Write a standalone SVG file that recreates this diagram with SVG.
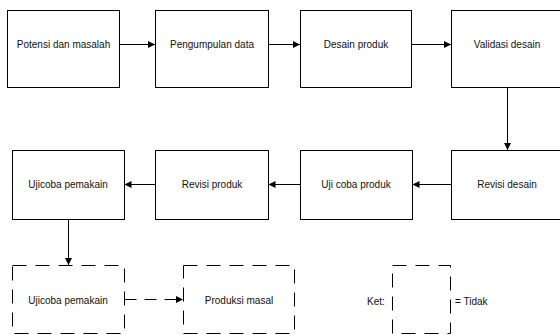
<svg xmlns="http://www.w3.org/2000/svg" width="560" height="335" viewBox="0 0 560 335">
<defs>
<style>
.box{fill:#fff;stroke:#000;stroke-width:1}
.dbox{fill:#fff;stroke:#000;stroke-width:1;stroke-dasharray:14 9}
.t{font-family:"Liberation Sans",Arial,sans-serif;font-size:10px;fill:#111;text-anchor:middle;dominant-baseline:central}
.c{fill:none;stroke:#000;stroke-width:1}
.d{stroke-dasharray:12 8}
</style>
<marker id="ah" viewBox="0 0 10 10" refX="10" refY="5" markerWidth="7" markerHeight="7" orient="auto" markerUnits="userSpaceOnUse">
<path d="M0,0 L10,5 L0,10 Z" fill="#000"/>
</marker>
</defs>
<rect width="560" height="335" fill="#fff"/>
<g id="connectors">
<line class="c" x1="119.5" y1="44.5" x2="155" y2="44.5" marker-end="url(#ah)"/>
<line class="c" x1="268.5" y1="44.5" x2="300" y2="44.5" marker-end="url(#ah)"/>
<line class="c" x1="411.5" y1="44.5" x2="451" y2="44.5" marker-end="url(#ah)"/>
<line class="c" x1="507.5" y1="88" x2="507.5" y2="150" marker-end="url(#ah)"/>
<line class="c" x1="451" y1="184.5" x2="412.5" y2="184.5" marker-end="url(#ah)"/>
<line class="c" x1="300" y1="184.5" x2="268.5" y2="184.5" marker-end="url(#ah)"/>
<line class="c" x1="155" y1="184.5" x2="124.5" y2="184.5" marker-end="url(#ah)"/>
<line class="c" x1="68.5" y1="219" x2="68.5" y2="265" marker-end="url(#ah)"/>
<line class="c d" x1="124.5" y1="299.5" x2="183" y2="299.5" marker-end="url(#ah)"/>
</g>
<g id="n1"><rect class="box" x="7.5" y="10.5" width="112" height="77"/><text class="t" x="63.5" y="44">Potensi dan masalah</text></g>
<g id="n2"><rect class="box" x="155.5" y="10.5" width="113" height="77"/><text class="t" x="212" y="44">Pengumpulan data</text></g>
<g id="n3"><rect class="box" x="300.5" y="10.5" width="111" height="77"/><text class="t" x="356" y="44">Desain produk</text></g>
<g id="n4"><rect class="box" x="451.5" y="10.5" width="112" height="77"/><text class="t" x="507" y="44">Validasi desain</text></g>
<g id="n5"><rect class="box" x="451.5" y="150.5" width="112" height="69"/><text class="t" x="507" y="184">Revisi desain</text></g>
<g id="n6"><rect class="box" x="300.5" y="150.5" width="112" height="69"/><text class="t" x="356" y="184">Uji coba produk</text></g>
<g id="n7"><rect class="box" x="155.5" y="150.5" width="113" height="69"/><text class="t" x="212" y="184">Revisi produk</text></g>
<g id="n8"><rect class="box" x="12.5" y="150.5" width="112" height="69"/><text class="t" x="68" y="184">Ujicoba pemakain</text></g>
<g id="n9"><rect class="dbox" x="12.5" y="265.5" width="112" height="68"/><text class="t" x="68" y="300">Ujicoba pemakain</text></g>
<g id="n10"><rect class="dbox" x="183.5" y="265.5" width="111" height="68"/><text class="t" x="239" y="300">Produksi masal</text></g>
<g id="legend">
<rect class="dbox" x="392.5" y="265.5" width="58" height="68"/>
<text class="t" x="367" y="301" style="text-anchor:start">Ket:</text>
<text class="t" x="455" y="301" style="text-anchor:start">= Tidak</text>
</g>
</svg>
